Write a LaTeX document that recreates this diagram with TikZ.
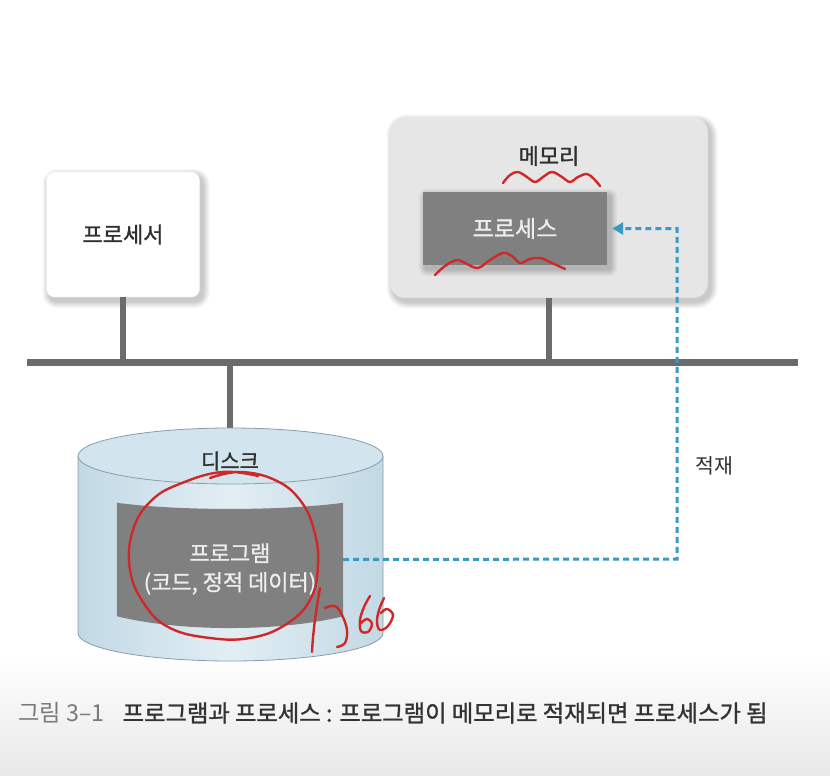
\documentclass[tikz,border=0pt]{standalone}
\usepackage{fontspec}
\setmainfont{Noto Sans CJK KR}
\newfontfamily\boldish[FakeBold=1.2]{Noto Sans CJK KR}
\usetikzlibrary{arrows.meta}
\definecolor{busgray}{HTML}{6B6B6B}
\definecolor{memfill}{HTML}{E6E6E6}
\definecolor{procfill}{HTML}{808080}
\definecolor{diskedge}{HTML}{C2D9E5}
\definecolor{diskmid}{HTML}{E2EEF4}
\definecolor{disktop}{HTML}{D2E5EE}
\definecolor{diskline}{HTML}{8A9CA6}
\definecolor{dashblue}{HTML}{3A9AC6}
\definecolor{redpen}{HTML}{D02828}
\definecolor{captxt}{HTML}{333333}
\definecolor{capgray}{HTML}{7A7A7A}
\definecolor{lbltxt}{HTML}{2F2F2F}
\definecolor{boxtxt}{HTML}{EDEDED}
\newcommand{\blurshadow}[5]{% x1 y1 x2 y2 radius
  \foreach \i in {1,...,7}{
    \fill[black, opacity=0.03, rounded corners={#5+\i*1pt}]
      ({#1+3-\i},{#2+4-\i}) rectangle ({#3+3+\i},{#4+4+\i});
  }}
\tikzset{
  lbl/.style={font=\fontsize{22}{26}\selectfont, text=lbltxt, inner sep=0pt},
  cpubox/.style={rectangle, rounded corners=8pt, fill=white, draw=black!5, minimum width=153pt, minimum height=125pt, font=\fontsize{22}{26}\selectfont, text=lbltxt},
  membox/.style={rectangle, rounded corners=14pt, fill=memfill, draw=black!8, minimum width=317pt, minimum height=180pt},
  procbox/.style={rectangle, fill=procfill, minimum width=184pt, minimum height=73pt, font=\fontsize{23}{26}\selectfont, text=boxtxt},
  busline/.style={draw=busgray, line width=7pt},
  stem/.style={draw=busgray, line width=6pt},
  loadarrow/.style={draw=dashblue, line width=3pt, dash pattern=on 6pt off 4pt, -{Triangle[length=11pt,width=12pt]}},
  redstroke/.style={draw=redpen, line width=2.4pt, line cap=round, line join=round}
}
\begin{document}
\begin{tikzpicture}[x=1pt,y=-1pt]
\useasboundingbox (0,0) rectangle (830,776);
\fill[white] (0,0) rectangle (830,776);
\shade[top color=white, bottom color=black!9] (0,655) rectangle (830,776);

% bus
\coordinate (busL) at (27,362);
\coordinate (busR) at (798,362);
\coordinate (disktop) at (230,429);

% shadows
\blurshadow{46.5}{172}{199.5}{297}{8pt}
\blurshadow{390.5}{117.5}{707.5}{297.5}{14pt}

% processor
\node[cpubox] (cpu) at (123,234.5) {\boldish 프로세서};
% memory
\node[membox] (mem) at (549,207.5) {};
\node[lbl] (memlbl) at (549,156) {\boldish 메모리};
\blurshadow{423}{192}{607}{265}{1pt}
\node[procbox] (proc) at (515,228.5) {\boldish 프로세스};

\draw[stem] (cpu.south) -- (cpu.south |- busL);
\draw[stem] (mem.south) -- (mem.south |- busL);
\draw[stem] (disktop) -- (disktop |- busL);
\draw[busline] (busL) -- (busR);

% disk cylinder
\shade[left color=diskedge, right color=diskedge, middle color=diskmid]
  (78,456) -- (78,633) arc[start angle=180, end angle=0, x radius=152.5, y radius=28] -- (383,456) -- cycle;
\draw[diskline, line width=0.8pt] (78,456) -- (78,633) arc[start angle=180, end angle=0, x radius=152.5, y radius=28] -- (383,456);
\filldraw[fill=disktop, draw=diskline, line width=0.8pt] (230.5,456) ellipse [x radius=152.5, y radius=28];
\node[lbl, font=\fontsize{21}{26}\selectfont] (disklbl) at (230,461) {\boldish 디스크};

% program on disk
\node[minimum width=226pt, minimum height=113pt, inner sep=0pt] (prog) at (230,559.5) {};
\fill[procfill] (prog.north west) .. controls (180,511) and (280,511) .. (prog.north east)
  -- (prog.south east) .. controls (280,632) and (180,632) .. (prog.south west) -- cycle;
\node[font=\fontsize{22}{29}\selectfont, text=boxtxt, align=center, inner sep=0pt] (progtxt) at (230,569) {\boldish 프로그램\\\boldish (코드, 정적 데이터)};

% load arrow
\coordinate (turn) at (677,559);
\draw[loadarrow, shorten >=5pt] (prog.east) -- (turn) |- (proc.east);
\node[lbl, font=\fontsize{20.5}{26}\selectfont] (loadlbl) at (714,466) {적재};

% red annotations
\draw[redstroke] plot[smooth, tension=0.6] coordinates {(503,183) (510,175) (518,172) (527,177) (535,182) (543,177) (552,172) (562,177) (570,182) (578,177) (587,174) (594,179) (600,186)};
\draw[redstroke] plot[smooth, tension=0.6] coordinates {(435,275) (445,266) (457,260) (467,264) (478,268) (490,260) (503,253) (512,256) (520,263) (530,259) (540,258) (552,263) (565,269)};
\draw[redstroke] plot[smooth, tension=0.7] coordinates {(210,478) (240,472) (275,480) (300,500) (314,530) (318,565) (310,600) (285,625) (250,638) (210,638) (170,628) (145,605) (130,570) (133,530) (152,500) (182,483) (222,472) (258,476)};
\draw[redstroke] (320,588) .. controls (316,610) and (313,632) .. (312,652);
\draw[redstroke] plot[smooth, tension=0.6] coordinates {(325,608) (335,606) (342,615) (347,630) (345,643) (337,647)};
\draw[redstroke] plot[smooth, tension=0.6] coordinates {(370,596) (364,607) (360,620) (361,631) (368,632) (372,624) (367,619) (361,623)};
\draw[redstroke] plot[smooth, tension=0.6] coordinates {(384,598) (379,610) (377,622) (380,630) (388,626) (393,615) (387,609) (381,613)};

% caption
\node[anchor=west, font=\fontsize{23.3}{26}\selectfont, inner sep=0pt] (caption) at (18,713)
  {\textcolor{capgray}{그림 3–1}\hspace{18pt}\textcolor{captxt}{\boldish 프로그램과 프로세스 : 프로그램이 메모리로 적재되면 프로세스가 됨}};
\end{tikzpicture}
\end{document}
